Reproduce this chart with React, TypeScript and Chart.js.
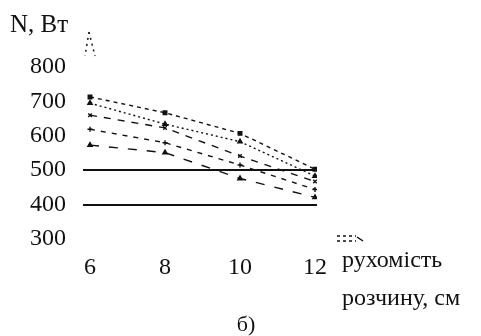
import React, { useEffect, useRef } from "react";
import { Chart, registerables } from "chart.js";

Chart.register(...registerables);

// Data
const mobility = [6, 8, 10, 12]; // рухомість розчину, см
const series1 = [713, 667, 607, 503];
const series2 = [695, 634, 583, 483];
const series3 = [660, 623, 541, 467];
const series4 = [619, 580, 515, 444];
const series5 = [573, 551, 476, 421];
const xTickValues = [6, 8, 10, 12];
const yMin = 300;
const yMax = 800;
const yStep = 100;
const referenceLines = [400, 500];

const yTitle = "N, Вт";
const xTitleLine1 = "рухомість";
const xTitleLine2 = "розчину, см";
const caption = "б)";

const INK = "#111";
const FONT = "'Liberation Serif', 'Times New Roman', serif";

const textPlugin = {
  id: "textPlugin",
  afterDraw(chart: any) {
    const ctx = chart.ctx;
    ctx.save();
    ctx.fillStyle = INK;
    ctx.textBaseline = "alphabetic";
    ctx.textAlign = "left";
    ctx.font = `25px ${FONT}`;
    ctx.fillText(yTitle, 10, 32);
    ctx.font = `24px ${FONT}`;
    ctx.fillText(xTitleLine1, 342, 267);
    ctx.fillText(xTitleLine2, 342, 305);
    ctx.font = `22px ${FONT}`;
    ctx.textAlign = "center";
    ctx.fillText(caption, 246, 331);
    // axis arrow remnants
    ctx.strokeStyle = INK;
    ctx.lineWidth = 1.5;
    ctx.setLineDash([2, 4]);
    ctx.beginPath();
    ctx.moveTo(89, 32);
    ctx.lineTo(85, 56);
    ctx.moveTo(89, 32);
    ctx.lineTo(95, 56);
    ctx.stroke();
    ctx.setLineDash([3, 3]);
    ctx.beginPath();
    ctx.moveTo(337, 236);
    ctx.lineTo(356, 236);
    ctx.moveTo(337, 241);
    ctx.lineTo(356, 241);
    ctx.stroke();
    ctx.setLineDash([]);
    ctx.beginPath();
    ctx.moveTo(357, 237);
    ctx.lineTo(363, 241);
    ctx.stroke();
    ctx.restore();
  },
};

function makeSeries(values: number[], dash: number[], pointStyle: string) {
  return {
    data: mobility.map((x, i) => ({ x, y: values[i] })),
    borderColor: INK,
    backgroundColor: INK,
    borderWidth: 1.4,
    borderDash: dash,
    pointStyle,
    pointRadius: 2.5,
    pointBorderWidth: 1.4,
    pointBorderColor: INK,
    pointBackgroundColor: INK,
    fill: false,
    tension: 0,
  };
}

export default function App() {
  const canvasRef = useRef<HTMLCanvasElement | null>(null);

  useEffect(() => {
    if (!canvasRef.current) return;
    const chart = new Chart(canvasRef.current, {
      type: "line",
      data: {
        datasets: [
          makeSeries(series1, [4, 4], "rect"),
          makeSeries(series2, [2, 3], "triangle"),
          makeSeries(series3, [7, 7], "crossRot"),
          makeSeries(series4, [5, 6], "cross"),
          makeSeries(series5, [9, 10], "triangle"),
        ] as any,
      },
      options: {
        animation: false,
        responsive: false,
        layout: { padding: { top: 67, right: 164, left: 0, bottom: 0 } },
        plugins: {
          legend: { display: false },
          tooltip: { enabled: false },
        },
        scales: {
          x: {
            type: "linear",
            min: 5.813,
            max: 12.053,
            afterBuildTicks: (scale: any) => {
              scale.ticks = xTickValues.map((v) => ({ value: v }));
            },
            afterFit: (scale: any) => {
              scale.height = 97;
            },
            grid: { display: false, drawTicks: false },
            border: { display: false },
            ticks: {
              color: INK,
              font: { family: FONT, size: 24 },
              padding: 14,
              maxRotation: 0,
              autoSkip: false,
            },
          },
          y: {
            type: "linear",
            min: yMin,
            max: yMax,
            afterFit: (scale: any) => {
              scale.width = 83;
            },
            grid: {
              drawTicks: false,
              color: (c: any) =>
                c.tick && referenceLines.includes(c.tick.value) ? INK : "rgba(0,0,0,0)",
              lineWidth: 2,
            },
            border: { display: false },
            ticks: {
              stepSize: yStep,
              color: INK,
              font: { family: FONT, size: 24 },
              padding: 17,
            },
          },
        },
      },
      plugins: [textPlugin],
    });
    return () => chart.destroy();
  }, []);

  return (
    <div style={{ position: "absolute", left: 0, top: 0, width: 481, height: 336, background: "#fff" }}>
      <canvas ref={canvasRef} width={481} height={336} />
    </div>
  );
}
